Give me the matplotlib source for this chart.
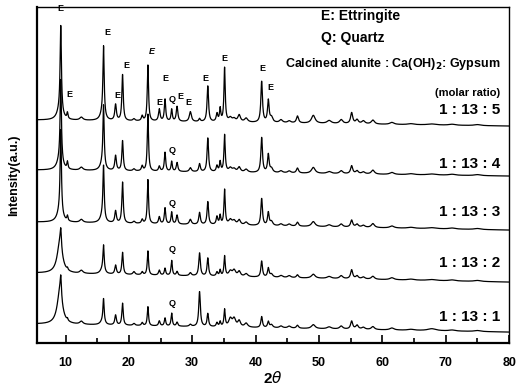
import numpy as np
import matplotlib.pyplot as plt

plt.rcParams['font.family'] = ['Liberation Sans', 'DejaVu Sans']

# peak positions (2theta) and half widths, shared by all patterns
pos = [9.25, 9.1, 10.3, 12.5, 16.0, 15.8, 17.9, 19.0, 20.8, 22.1,
       23.0, 24.8, 25.7, 26.75, 27.6, 29.7, 31.15, 32.45, 33.9, 34.4,
       35.1, 36.0, 36.6, 37.4, 38.5, 40.95, 42.0, 42.5, 44.0, 45.3,
       46.6, 49.1, 51.6, 53.5, 55.15, 56.0, 57.0, 58.5, 61.5, 64.5,
       67.8, 71.0, 75.0]
hw = [0.12, 0.5, 0.1, 0.3, 0.12, 0.4, 0.15, 0.13, 0.2, 0.15,
      0.12, 0.15, 0.13, 0.12, 0.15, 0.2, 0.15, 0.14, 0.15, 0.12,
      0.12, 0.3, 0.3, 0.25, 0.3, 0.15, 0.15, 0.25, 0.3, 0.3,
      0.2, 0.35, 0.4, 0.3, 0.2, 0.25, 0.3, 0.3, 0.4, 0.6,
      0.8, 0.6, 0.6]

# peak heights (a.u.) for each molar ratio
h5 = [86, 10, 6, 3, 70, 6, 16, 46, 2, 5,
      56, 12, 22, 12, 15, 10, 3, 36, 8, 13,
      54, 4, 3, 7, 4, 41, 22, 5, 3, 2,
      7, 8, 3, 4, 11, 4, 3, 4, 2, 1,
      1, 1, 1]
h4 = [82, 10, 7, 3, 61, 6, 15, 30, 2, 5,
      57, 5, 19, 10, 9, 4, 8, 34, 6, 10,
      37, 4, 3, 5, 3, 35, 18, 4, 2, 2,
      5, 6, 2, 3, 8, 3, 2, 4, 2, 1,
      1, 1, 1]
h3 = [84, 10, 5, 3, 53, 6, 12, 41, 2, 4,
      44, 7, 16, 12, 9, 5, 12, 23, 8, 9,
      35, 5, 4, 5, 3, 27, 13, 4, 2, 2,
      4, 5, 2, 3, 7, 3, 2, 4, 2, 1,
      1, 1, 1]
h2 = [18, 30, 2, 3, 26, 4, 9, 22, 3, 3,
      24, 5, 7, 15, 4, 3, 23, 18, 4, 6,
      20, 5, 6, 5, 3, 16, 9, 3, 2, 2,
      3, 4, 2, 3, 9, 3, 2, 3, 2, 1,
      1, 1, 1]
h1 = [20, 32, 2, 3, 24, 3, 10, 22, 2, 3,
      19, 5, 8, 13, 4, 2, 35, 13, 4, 5,
      17, 8, 8, 6, 4, 11, 6, 3, 2, 2,
      3, 4, 2, 3, 8, 4, 2, 3, 2, 1,
      2, 1, 1]

# background level at 2theta = 5.5 and 80 (already stacked)
base_left = [223, 173, 121, 70, 19]
base_right = [217, 167, 113, 61, 11]
heights = [h5, h4, h3, h2, h1]
ratios = ['1 : 13 : 5', '1 : 13 : 4', '1 : 13 : 3', '1 : 13 : 2', '1 : 13 : 1']
ratio_y = [233, 179, 131, 80, 26]

# phase labels: (2theta, y, text)
marks = [(9.2, 335, 'E'), (10.55, 249, 'E'), (16.6, 311, 'E'), (18.2, 248, 'E'),
         (19.6, 278, 'E'), (23.7, 292, 'E'), (25.7, 265, 'E'), (24.8, 241, 'E'),
         (26.9, 244, 'Q'), (28.1, 247, 'E'), (29.4, 241, 'E'), (32.0, 265, 'E'),
         (35.0, 285, 'E'), (41.0, 275, 'E'), (42.3, 256, 'E'),
         (26.9, 193, 'Q'), (26.8, 140, 'Q'), (26.8, 94, 'Q'), (26.8, 40, 'Q')]

x = np.arange(5.5, 80.01, 0.02)

fig = plt.figure(figsize=(5.16, 3.89), dpi=100)
ax = fig.add_axes([0.0717, 0.118, 0.915, 0.864])

for i in range(5):
    y = base_left[i] + (base_right[i] - base_left[i]) * (x - 5.5) / 74.5
    for p, w, h in zip(pos, hw, heights[i]):
        y = y + h / (1 + ((x - p) / w) ** 2)
    ax.plot(x, y, color='black', lw=0.9)
    ax.text(78.6, ratio_y[i], ratios[i], ha='right', va='center',
            fontsize=11, fontweight='bold')

for mx, my, mt in marks:
    style = 'italic' if (mx == 23.7) else 'normal'
    ax.text(mx, my, mt, ha='center', va='center', fontsize=6.5,
            fontweight='bold', style=style)

ax.text(50.3, 327, 'E: Ettringite', ha='left', va='center', fontsize=10, fontweight='bold')
ax.text(50.3, 305, 'Q: Quartz', ha='left', va='center', fontsize=10, fontweight='bold')
ax.text(78.6, 279, 'Calcined alunite : Ca(OH)$_\\mathbf{2}$: Gypsum', ha='right', va='center',
        fontsize=9, fontweight='bold')
ax.text(78.6, 250, '(molar ratio)', ha='right', va='center', fontsize=8, fontweight='bold')

ax.set_xlim(5.5, 80)
ax.set_ylim(0, 336)
ax.set_xticks([10, 20, 30, 40, 50, 60, 70, 80])
ax.set_xticks([15, 25, 35, 45, 55, 65, 75], minor=True)
ax.set_yticks([])
ax.tick_params(axis='x', which='major', direction='in', length=6, width=1.2,
               labelsize=9, pad=10)
ax.tick_params(axis='x', which='minor', direction='in', length=3.5, width=1.2)
for lbl in ax.get_xticklabels():
    lbl.set_fontweight('bold')
for s in ['left', 'bottom']:
    ax.spines[s].set_linewidth(1.6)
for s in ['top', 'right']:
    ax.spines[s].set_linewidth(1.0)

ax.set_xlabel('2$\\theta$', fontsize=11, fontweight='bold', labelpad=1)
ax.set_ylabel('Intensity(a.u.)', fontsize=9, fontweight='bold', labelpad=12)

fig.savefig('out.png', dpi=100)
